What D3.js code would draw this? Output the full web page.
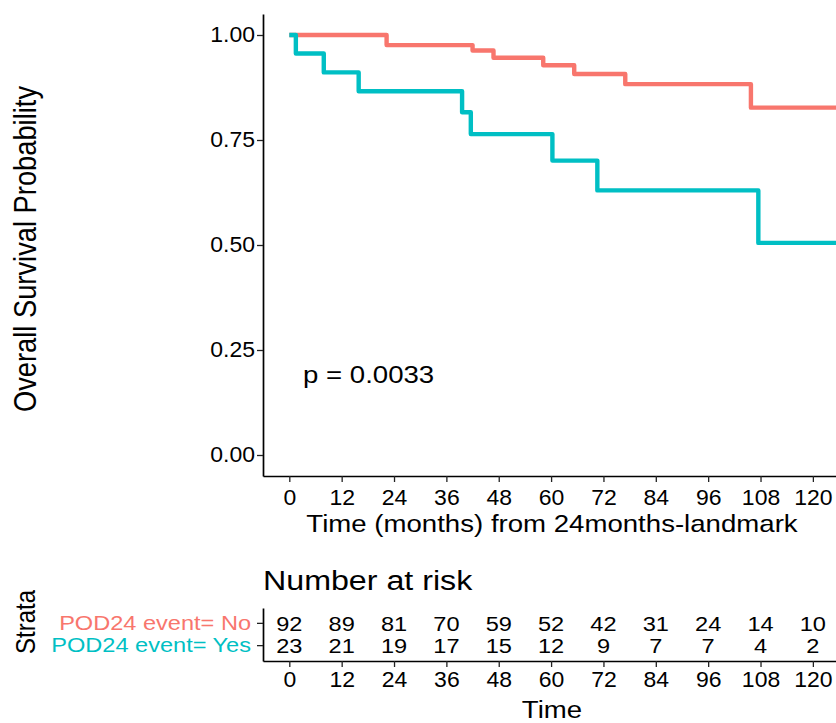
<!DOCTYPE html>
<html>
<head>
<meta charset="utf-8">
<script src="https://cdn.jsdelivr.net/npm/d3@7"></script>
<style>
  body { margin: 0; background: #fff; }
  svg { display: block; }
</style>
</head>
<body>
<svg id="chart" width="836" height="723"></svg>
<script>
// ---- data ----
var timeTicks = [0, 12, 24, 36, 48, 60, 72, 84, 96, 108, 120];
var survTicks = [0, 0.25, 0.5, 0.75, 1];
var strata = ["POD24 event= No", "POD24 event= Yes"];
var strataColors = ["#F8766D", "#00BFC4"];

var noTime = [0, 22.3, 42.0, 46.8, 58.2, 65.3, 77.0, 105.8];
var noSurv = [1, 0.976, 0.963, 0.946, 0.928, 0.907, 0.883, 0.827];
var yesTime = [0, 1.5, 7.9, 15.9, 39.6, 41.6, 60.3, 70.6, 107.5];
var yesSurv = [1, 0.956, 0.911, 0.866, 0.816, 0.764, 0.701, 0.630, 0.505];

var riskNo = [92, 89, 81, 70, 59, 52, 42, 31, 24, 14, 10];
var riskYes = [23, 21, 19, 17, 15, 12, 9, 7, 7, 4, 2];
var pLabel = "p = 0.0033";

// ---- setup ----
var FONT = "'Liberation Sans', Arial, sans-serif";
var SX = 1.15;   // titles in the reference are a bit wider than tall
var SXT = 1.07;  // axis tick labels less so
var svg = d3.select("#chart").attr("font-family", FONT);

var x = d3.scaleLinear().domain([-6.03, 125.3]).range([263, 836]);
var y = d3.scaleLinear().domain([-0.05, 1.05]).range([476, 14]);

function txt(g, px, py, str, size, anchor, color, rot, sx){
    sx = sx || SX;
    return g.append("text")
        .attr("transform", "translate(" + px + "," + py + ") scale(" + sx + ",1)" + (rot ? " rotate(" + rot + ")" : ""))
        .attr("text-anchor", anchor)
        .attr("font-size", size)
        .attr("fill", color || "#000")
        .text(str);
}

function styleAxis(g){
    g.attr("font-family", FONT).attr("font-size", 21.5);
    g.select(".domain").attr("stroke", "#000").attr("stroke-width", 1.7);
    g.selectAll(".tick line").attr("stroke", "#222").attr("stroke-width", 1.3);
    g.selectAll(".tick text").attr("fill", "#000");
}

// ---- survival curves ----
var line = d3.line()
    .x(function(d){ return x(d[0]); })
    .y(function(d){ return y(d[1]); })
    .curve(d3.curveStepAfter);

var series = [
    {t: noTime, s: noSurv, color: strataColors[0]},
    {t: yesTime, s: yesSurv, color: strataColors[1]}
];

var curves = svg.append("g");
series.forEach(function(sr){
    var pts = sr.t.map(function(t, i){ return [t, sr.s[i]]; });
    pts.push([x.domain()[1], sr.s[sr.s.length - 1]]);
    curves.append("path")
        .attr("d", line(pts))
        .attr("fill", "none")
        .attr("stroke", sr.color)
        .attr("stroke-width", 4.4)
        .attr("stroke-linejoin", "round");
});

// ---- main axes ----
var yAx = svg.append("g")
    .attr("transform", "translate(263,0)")
    .call(d3.axisLeft(y).tickValues(survTicks).tickSize(6).tickSizeOuter(0).tickFormat(d3.format(".2f")));
styleAxis(yAx);
yAx.selectAll(".tick text").attr("x", -8 / SXT).attr("transform", "scale(" + SXT + ",1)");

var xAx = svg.append("g")
    .attr("transform", "translate(0,476)")
    .call(d3.axisBottom(x).tickValues(timeTicks).tickSize(6).tickSizeOuter(0));
styleAxis(xAx);
xAx.selectAll(".tick text").attr("y", 14).attr("transform", "scale(" + SXT + ",1)");

txt(svg, 36, 249, "Overall Survival Probability", 27.3, "middle", "#000", -90);
txt(svg, 552, 532, "Time (months) from 24months-landmark", 24, "middle");
txt(svg, 303, 383, pLabel, 24, "start");

// ---- risk table ----
txt(svg, 263, 590, "Number at risk", 28, "start");
txt(svg, 35, 622, "Strata", 24, "middle", "#000", -90);

var yr = d3.scaleBand().domain(strata).range([608, 661]).paddingInner(0).paddingOuter(0.19);

var ryAx = svg.append("g")
    .attr("transform", "translate(263,0)")
    .call(d3.axisLeft(yr).tickSize(6).tickSizeOuter(0));
styleAxis(ryAx);
ryAx.selectAll(".tick text")
    .attr("x", -12 / SX)
    .attr("transform", "scale(" + SX + ",1)")
    .attr("font-size", 20.5)
    .attr("fill", function(d, i){ return strataColors[i]; });

var rxAx = svg.append("g")
    .attr("transform", "translate(0,661)")
    .call(d3.axisBottom(x).tickValues(timeTicks).tickSize(6).tickSizeOuter(0));
styleAxis(rxAx);
rxAx.selectAll(".tick text").attr("y", 11).attr("transform", "scale(" + SXT + ",1)");

txt(svg, 552, 718, "Time", 24, "middle");

var riskRows = [riskNo, riskYes];
var riskG = svg.append("g");
riskRows.forEach(function(row, r){
    var cy = yr(strata[r]) + yr.bandwidth() / 2;
    row.forEach(function(n, i){
        txt(riskG, x(timeTicks[i]), cy + 7.5, n, 20.5, "middle");
    });
});
</script>
</body>
</html>
